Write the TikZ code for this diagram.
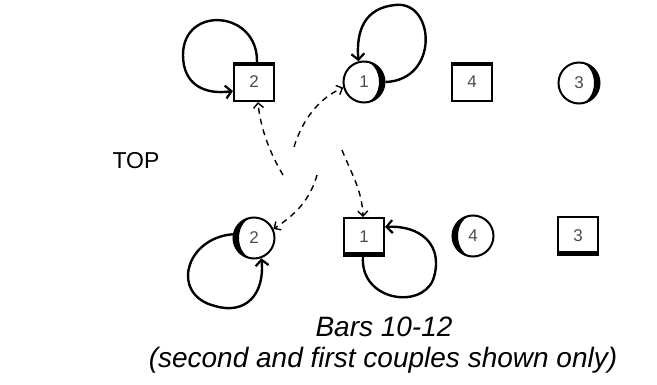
\documentclass[tikz,border=0pt]{standalone}
\usepackage{fontspec}
\newfontfamily\arialf{Liberation Sans}
\usetikzlibrary{arrows.meta}
\tikzset{
  sq/.style={draw, line width=2pt, minimum width=40pt, minimum height=38pt, inner sep=0pt, font=\arialf\fontsize{17}{17}\selectfont, text=black!70},
  ci/.style={draw, circle, line width=2pt, minimum size=41pt, inner sep=0pt, font=\arialf\fontsize{17}{17}\selectfont, text=black!70},
  loopline/.style={line width=2.4pt, -{Straight Barb[length=6pt,width=13pt,line width=2.2pt]}},
  dasharrow/.style={line width=1.4pt, dash pattern=on 6pt off 5pt, -{Straight Barb[length=5pt,width=10pt,line width=1.4pt]}},
}
\newcommand{\cresc}[2]{%
\begin{scope}
\clip (#1.center) circle[radius=20.5pt];
\clip ([yshift=-30pt]#1.center) rectangle ([xshift=#2*30pt,yshift=30pt]#1.center);
\fill[even odd rule] ([xshift=-30pt,yshift=-30pt]#1.center) rectangle ([xshift=30pt,yshift=30pt]#1.center) (#1.center) circle[x radius=15pt,y radius=20.5pt];
\end{scope}}
\begin{document}
\begin{tikzpicture}[x=1pt,y=-1pt]
\useasboundingbox (0,0) rectangle (657,385);
% top row
\node[sq] (s2t) at (254,82) {2};
\node[ci] (c1t) at (364,82) {1};
\node[sq] (s4t) at (472,82) {4};
\node[ci] (c3t) at (579,83) {3};
% bottom row
\node[ci] (c2b) at (254,238) {2};
\node[sq] (s1b) at (364,237) {1};
\node[ci] (c4b) at (473,236) {4};
\node[sq] (s3b) at (578,236) {3};
% bars
\fill (s2t.north west) rectangle ([yshift=-4pt]s2t.north east);
\fill (s4t.north west) rectangle ([yshift=-4pt]s4t.north east);
\fill (s1b.south west) rectangle ([yshift=5pt]s1b.south east);
\fill (s3b.south west) rectangle ([yshift=5pt]s3b.south east);
% crescents
\cresc{c1t}{1}
\cresc{c3t}{1}
\cresc{c2b}{-1}
\cresc{c4b}{-1}
% solid loops
\draw[loopline] ([xshift=3pt]s2t.north) .. controls (258,10) and (183,5) .. (183,55) .. controls (183,85) and (205,95) .. ([yshift=-9pt]s2t.west);
\draw[loopline] (c1t.east) .. controls (440,80) and (435,0) .. (395,5) .. controls (365,8) and (356,30) .. (c1t.105);
\draw[loopline] (c2b.170) .. controls (185,238) and (170,295) .. (215,306) .. controls (245,315) and (265,295) .. (c2b.-70);
\draw[loopline] ([xshift=-1pt]s1b.south) .. controls (360,300) and (420,310) .. (433,280) .. controls (445,245) and (420,225) .. ([yshift=10pt]s1b.east);
% dashed connectors
\coordinate (d1) at (283,175);
\coordinate (d2) at (294,147);
\coordinate (d3) at (342,150);
\coordinate (d4) at (317,175);
\draw[dasharrow] (d1) .. controls (268,150) and (260,125) .. ([xshift=4pt]s2t.south);
\draw[dasharrow] (d2) .. controls (303,118) and (320,98) .. (c1t.195);
\draw[dasharrow] (d3) .. controls (352,175) and (362,190) .. ([xshift=-1pt]s1b.north);
\draw[dasharrow] (d4) .. controls (310,200) and (295,215) .. (c2b.25);
% labels
\node[font=\arialf\fontsize{23}{23}\selectfont] (top) at (136,161) {TOP};
\node[font=\arialf\itshape\fontsize{28}{28}\selectfont] (cap1) at (384,327) {Bars 10-12};
\node[font=\arialf\itshape\fontsize{28}{28}\selectfont] (cap2) at (383,360) {(second and first couples shown only)};
\end{tikzpicture}
\end{document}
